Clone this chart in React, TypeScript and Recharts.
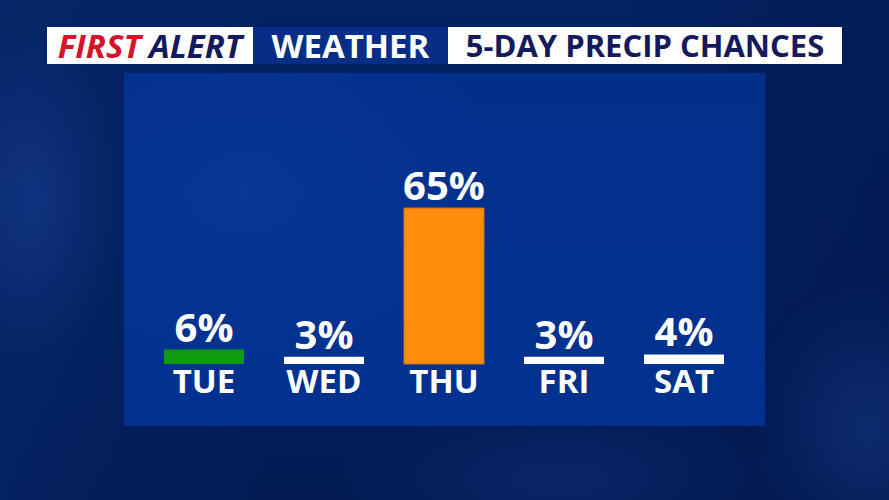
import React from 'react';
import { BarChart, Bar, XAxis, YAxis, Cell, LabelList } from 'recharts';

const days = ['TUE', 'WED', 'THU', 'FRI', 'SAT'];
const chances = [6, 3, 65, 3, 4];
const barColors = ['#109a10', '#ffffff', '#ff8c0a', '#ffffff', '#ffffff'];

const chartData = days.map((day, i) => ({ day, chance: chances[i] }));

const FONT = '"Open Sans", "Noto Sans", sans-serif';

// day name under each bar
const DayTick = ({ x, y, payload }: any) => (
  <text
    x={x}
    y={y + 29}
    textAnchor="middle"
    fill="#ffffff"
    fontFamily={FONT}
    fontWeight={700}
    fontSize={33}
  >
    {payload.value}
  </text>
);

const headerBox: React.CSSProperties = {
  position: 'absolute',
  top: 27,
  height: 37,
  display: 'flex',
  alignItems: 'center',
  justifyContent: 'center',
  fontFamily: FONT,
  fontWeight: 700,
  lineHeight: '37px',
  whiteSpace: 'nowrap',
};

export default function App() {
  return (
    <div
      style={{
        position: 'absolute',
        left: 0,
        top: 0,
        width: 889,
        height: 500,
        overflow: 'hidden',
        background:
          'radial-gradient(ellipse 90px 170px at 30px 200px, rgba(30,70,160,0.45), rgba(30,70,160,0) 100%),' +
          'radial-gradient(ellipse 120px 150px at 870px 430px, rgba(30,70,160,0.4), rgba(30,70,160,0) 100%),' +
          'radial-gradient(ellipse 220px 80px at 560px 480px, rgba(25,60,150,0.3), rgba(25,60,150,0) 100%),' +
          'linear-gradient(90deg, rgba(8,40,110,0.5) 0%, rgba(0,0,0,0) 30%, rgba(0,0,0,0) 70%, rgba(0,15,60,0.3) 100%),' +
          'linear-gradient(180deg, #032262 0%, #021f5c 50%, #011b52 100%)',
      }}
    >
      {/* header strip */}
      <div style={{ ...headerBox, left: 47, width: 206, background: '#ffffff', fontStyle: 'italic', fontSize: 33 }}>
        <span style={{ color: '#d3142a' }}>FIRST</span>
        <span style={{ color: '#141a5e', marginLeft: 8 }}>ALERT</span>
      </div>
      <div style={{ ...headerBox, left: 253, width: 195, background: '#072e86', color: '#ffffff', fontSize: 33 }}>
        WEATHER
      </div>
      <div style={{ ...headerBox, left: 448, width: 394, background: '#ffffff', color: '#151a5c', fontSize: 31 }}>
        5-DAY PRECIP CHANCES
      </div>

      {/* chart panel */}
      <div
        style={{
          position: 'absolute',
          left: 124,
          top: 73,
          width: 641,
          height: 353,
          background:
            'radial-gradient(ellipse 260px 200px at 120px 120px, rgba(20,70,170,0.3), rgba(20,70,170,0) 100%),' +
            'linear-gradient(180deg, #022f8a 0%, #01318f 100%)',
        }}
      >
        <BarChart
          width={641}
          height={353}
          data={chartData}
          margin={{ top: 51, right: 21, bottom: 0, left: 20 }}
          barSize={80}
        >
          <YAxis hide domain={[0, 100]} />
          <XAxis
            dataKey="day"
            height={62}
            axisLine={false}
            tickLine={false}
            tickSize={0}
            tickMargin={0}
            interval={0}
            tick={<DayTick />}
          />
          <Bar dataKey="chance" isAnimationActive={false}>
            {chartData.map((d, i) => (
              <Cell
                key={d.day}
                fill={barColors[i]}
                stroke={d.day === 'THU' ? '#c8701a' : 'none'}
                strokeWidth={1}
              />
            ))}
            <LabelList
              dataKey="chance"
              position="top"
              offset={8}
              formatter={(v: any) => `${v}%`}
              fill="#ffffff"
              fontFamily={FONT}
              fontWeight={700}
              fontSize={40}
            />
          </Bar>
        </BarChart>
      </div>
    </div>
  );
}
